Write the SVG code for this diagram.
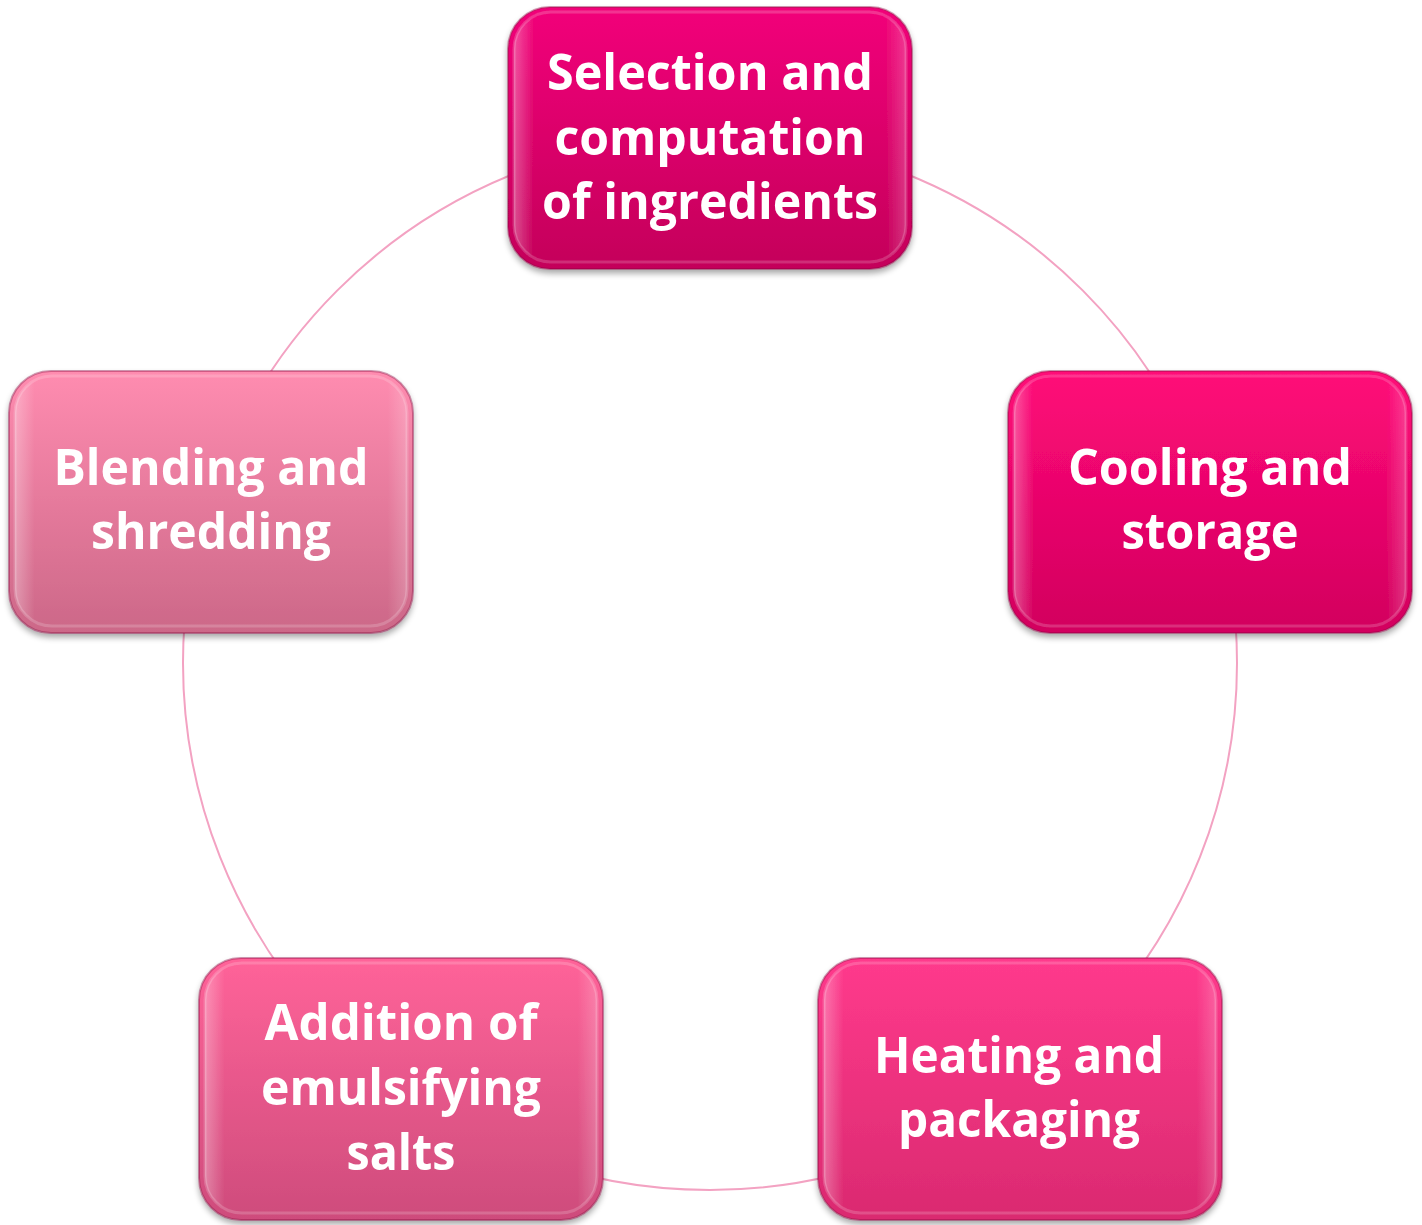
<svg xmlns="http://www.w3.org/2000/svg" width="1422" height="1225" viewBox="0 0 1422 1225">
<defs>
<linearGradient id="g1" x1="0" y1="0" x2="0" y2="1"><stop offset="0" stop-color="#F2067A"/><stop offset="1" stop-color="#C4005A"/></linearGradient>
<linearGradient id="g2" x1="0" y1="0" x2="0" y2="1"><stop offset="0" stop-color="#FF0A78"/><stop offset="1" stop-color="#D2005E"/></linearGradient>
<linearGradient id="g3" x1="0" y1="0" x2="0" y2="1"><stop offset="0" stop-color="#FF3A8C"/><stop offset="1" stop-color="#DA2A70"/></linearGradient>
<linearGradient id="g4" x1="0" y1="0" x2="0" y2="1"><stop offset="0" stop-color="#FF6399"/><stop offset="1" stop-color="#CE4C7C"/></linearGradient>
<linearGradient id="g5" x1="0" y1="0" x2="0" y2="1"><stop offset="0" stop-color="#FF8CB0"/><stop offset="1" stop-color="#CC6888"/></linearGradient>
<linearGradient id="hl" x1="0" y1="0" x2="1" y2="0"><stop offset="0" stop-color="#fff" stop-opacity="0.3"/><stop offset="0.05" stop-color="#fff" stop-opacity="0"/><stop offset="0.95" stop-color="#fff" stop-opacity="0"/><stop offset="1" stop-color="#fff" stop-opacity="0.2"/></linearGradient>
<filter id="sh" x="-10%" y="-10%" width="120%" height="125%"><feGaussianBlur in="SourceAlpha" stdDeviation="3"/><feOffset dx="0" dy="4"/><feComponentTransfer><feFuncA type="linear" slope="0.35"/></feComponentTransfer><feMerge><feMergeNode/><feMergeNode in="SourceGraphic"/></feMerge></filter>
</defs>
<style>
.box{stroke:#8a1040;stroke-opacity:0.4;stroke-width:2}
.bev{fill:url(#hl);stroke:#fff;stroke-opacity:0.18;stroke-width:3}
.t{font-family:"Open Sans","Noto Sans","DejaVu Sans",sans-serif;font-weight:bold;font-size:51px;fill:#fff;text-anchor:middle}
.c{fill:none;stroke:#F3A2C2;stroke-width:2}
</style>
<rect width="1422" height="1225" fill="#fff"/>
<g id="connectors">
<circle class="c" cx="710" cy="663" r="527"/>
</g>
<g id="n1" filter="url(#sh)">
<rect class="box" x="508" y="7" width="404" height="262" rx="42" fill="url(#g1)"/>
<rect class="bev" x="514" y="12" width="392" height="250" rx="37"/>
<text class="t" x="710" y="90" textLength="326" lengthAdjust="spacingAndGlyphs">Selection and</text>
<text class="t" x="710" y="155" textLength="311" lengthAdjust="spacingAndGlyphs">computation</text>
<text class="t" x="710" y="219" textLength="336" lengthAdjust="spacingAndGlyphs">of ingredients</text>
</g>
<g id="n2" filter="url(#sh)">
<rect class="box" x="1008" y="371" width="404" height="262" rx="42" fill="url(#g2)"/>
<rect class="bev" x="1014" y="376" width="392" height="250" rx="37"/>
<text class="t" x="1210" y="485" textLength="284" lengthAdjust="spacingAndGlyphs">Cooling and</text>
<text class="t" x="1210" y="549" textLength="177" lengthAdjust="spacingAndGlyphs">storage</text>
</g>
<g id="n3" filter="url(#sh)">
<rect class="box" x="818" y="958" width="404" height="262" rx="42" fill="url(#g3)"/>
<rect class="bev" x="824" y="963" width="392" height="250" rx="37"/>
<text class="t" x="1019" y="1073" textLength="290" lengthAdjust="spacingAndGlyphs">Heating and</text>
<text class="t" x="1019" y="1137" textLength="242" lengthAdjust="spacingAndGlyphs">packaging</text>
</g>
<g id="n4" filter="url(#sh)">
<rect class="box" x="199" y="958" width="404" height="262" rx="42" fill="url(#g4)"/>
<rect class="bev" x="205" y="963" width="392" height="250" rx="37"/>
<text class="t" x="401" y="1040" textLength="273" lengthAdjust="spacingAndGlyphs">Addition of</text>
<text class="t" x="401" y="1105" textLength="280" lengthAdjust="spacingAndGlyphs">emulsifying</text>
<text class="t" x="401" y="1170" textLength="109" lengthAdjust="spacingAndGlyphs">salts</text>
</g>
<g id="n5" filter="url(#sh)">
<rect class="box" x="9" y="371" width="404" height="262" rx="42" fill="url(#g5)"/>
<rect class="bev" x="15" y="376" width="392" height="250" rx="37"/>
<text class="t" x="211" y="485" textLength="315" lengthAdjust="spacingAndGlyphs">Blending and</text>
<text class="t" x="211" y="549" textLength="240" lengthAdjust="spacingAndGlyphs">shredding</text>
</g>
</svg>
